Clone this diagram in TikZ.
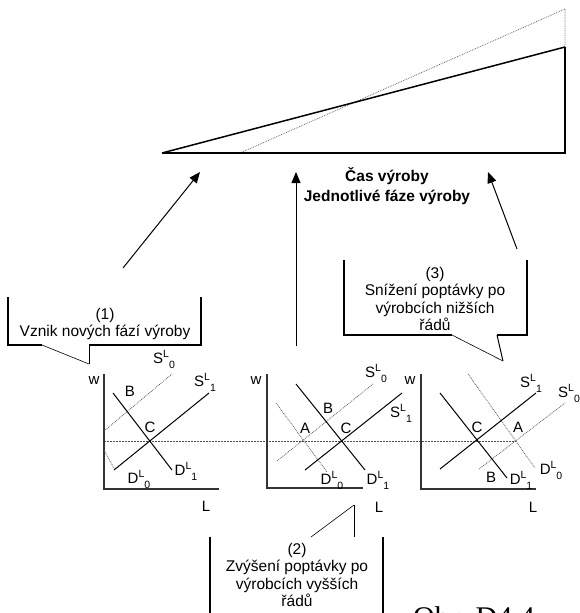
\documentclass[tikz,border=0pt]{standalone}
\usepackage{fontspec}
\setmainfont{Liberation Sans}
\newfontfamily\capfont{Liberation Serif}
\usetikzlibrary{arrows.meta}

% curve label such as S^L_0 with the index set after the superscript
\newcommand{\crv}[2]{#1\raisebox{0.42em}{\fontsize{10.5}{10.5}\selectfont L}\raisebox{-0.32em}{\fontsize{10.5}{10.5}\selectfont #2}}

\begin{document}
\begin{tikzpicture}[x=1pt,y=-1pt,
  axis/.style={line width=1.3pt, draw=black!80},
  curve/.style={line width=1pt},
  shifted/.style={line width=0.8pt, draw=black!65, densely dotted},
  level/.style={line width=0.6pt, draw=black!70, dash pattern=on 1.5pt off 1.5pt},
  lab/.style={font=\fontsize{15}{15}\selectfont, inner sep=0pt},
  note/.style={font=\fontsize{15.5}{17.5}\selectfont, align=center, inner sep=0pt},
  head/.style={font=\bfseries\fontsize{15.5}{15.5}\selectfont, inner sep=0pt},
  boxline/.style={line width=1.4pt},
  tail/.style={line width=0.6pt},
  rise/.style={line width=1pt, -{Triangle[length=11pt,width=9pt]}}
]
\useasboundingbox (0,0) rectangle (580,613);

% ---- production time triangle ----
\coordinate (t0) at (162,153);
\coordinate (t1) at (565,153);
\coordinate (t2) at (565,47);
\coordinate (t3) at (565,9);
\coordinate (t4) at (240,153);
\draw[shifted, line width=0.7pt] (t4) -- (t3) -- (t2);
\draw[line width=1.2pt] (t0) -- (t1) -- (t2);
\draw[line width=1.5pt] (t0) -- (t2);

\node[head] (h1) at (387,176) {Čas výroby};
\node[head] (h2) at (387,197) {Jednotlivé fáze výroby};

% ---- arrows towards the triangle ----
\coordinate (a1s) at (123,268);  \coordinate (a1e) at (200,172);
\coordinate (a2s) at (296,346);  \coordinate (a2e) at (296,172);
\coordinate (a3s) at (517,249);  \coordinate (a3e) at (488,172);
\draw[rise] (a1s) -- (a1e);
\draw[rise] (a2s) -- (a2e);
\draw[rise] (a3s) -- (a3e);

% ---- wage level through all three markets ----
\coordinate (lv0) at (104,441);
\coordinate (lv1) at (516,441);
\draw[level] (lv0) -- (lv1);

% ---- market 1 ----
\coordinate (o1) at (104,489);
\draw[axis] (104,374) -- (o1) -- (219,489);
\draw[shifted] (104,431) -- (172,374);
\draw[shifted] (104,450) -- (115,470);
\draw[curve] (114,470) -- (209,393);
\draw[curve] (113,393) -- (172,470);
\node[lab] (w1) at (94,381) {w};
\node[lab] (L1) at (206,506) {L};
\node[lab] (s01) at (164,359) {\crv{S}{0}};
\node[lab] (s11) at (205,382) {\crv{S}{1}};
\node[lab] (d01) at (139,479) {\crv{D}{0}};
\node[lab] (d11) at (186,471) {\crv{D}{1}};
\node[lab] (B1) at (130,391) {B};
\node[lab] (C1) at (150,427) {C};

% ---- market 2 ----
\coordinate (o2) at (267,488);
\draw[axis] (267,374) -- (o2) -- (363,488);
\draw[shifted] (277,461) -- (373,384);
\draw[shifted] (276,403) -- (327,472);
\draw[curve] (305,470) -- (402,393);
\draw[curve] (296,384) -- (365,470);
\node[lab] (w2) at (256,381) {w};
\node[lab] (L2) at (379,507) {L};
\node[lab] (s02) at (376,373) {\crv{S}{0}};
\node[lab] (s12) at (401,413) {\crv{S}{1}};
\node[lab] (d02) at (332,480) {\crv{D}{0}};
\node[lab] (d12) at (378,480) {\crv{D}{1}};
\node[lab] (A2) at (305,428) {A};
\node[lab] (B2) at (328,408) {B};
\node[lab] (C2) at (346,428) {C};

% ---- market 3 ----
\coordinate (o3) at (421,489);
\draw[axis] (421,374) -- (o3) -- (536,489);
\draw[shifted] (468,374) -- (535,468);
\draw[shifted] (479,469) -- (565,403);
\draw[curve] (440,469) -- (536,393);
\draw[curve] (440,393) -- (507,478);
\node[lab] (w3) at (410,381) {w};
\node[lab] (L3) at (533,507) {L};
\node[lab] (s03) at (569,393) {\crv{S}{0}};
\node[lab] (s13) at (531,383) {\crv{S}{1}};
\node[lab] (d03) at (551,470) {\crv{D}{0}};
\node[lab] (d13) at (521,480) {\crv{D}{1}};
\node[lab] (A3) at (518,427) {A};
\node[lab] (B3) at (491,477) {B};
\node[lab] (C3) at (477,427) {C};

% ---- callout (1) ----
\fill[white] (8,297) rectangle (201,345);
\draw[boxline] (8,297) -- (8,345) -- (42,345);
\draw[boxline] (89,345) -- (201,345) -- (201,297);
\draw[tail] (42,345) -- (89,364);
\draw[line width=1pt] (89,364) -- (89,345);
\node[note] (n1) at (105,324) {(1)\\Vznik nových fází výroby};

% ---- callout (3) ----
\fill[white] (344,260) rectangle (527,335);
\draw[boxline] (344,260) -- (344,335) -- (452,335);
\draw[boxline] (497,335) -- (527,335) -- (527,260);
\draw[tail] (452,335) -- (503,361);
\draw[line width=1pt] (503,361) -- (497,335);
\node[note] (n3) at (435,299) {(3)\\Snížení poptávky po\\výrobcích nižších\\řádů};

% ---- callout (2) ----
\fill[white] (210,537) rectangle (383,613);
\draw[boxline] (210,613) -- (210,537);
\draw[boxline] (383,537) -- (383,613);
\draw[tail] (311,537) -- (354,505);
\draw[line width=1pt] (354,505) -- (354,537);
\node[note] (n2) at (297,575) {(2)\\Zvýšení poptávky po\\výrobcích vyšších\\řádů};

% ---- figure number ----
\node[font=\capfont\fontsize{30}{30}\selectfont, anchor=base west, inner sep=0pt] (fig) at (413,627) {Obr. D4.4};
\end{tikzpicture}
\end{document}
